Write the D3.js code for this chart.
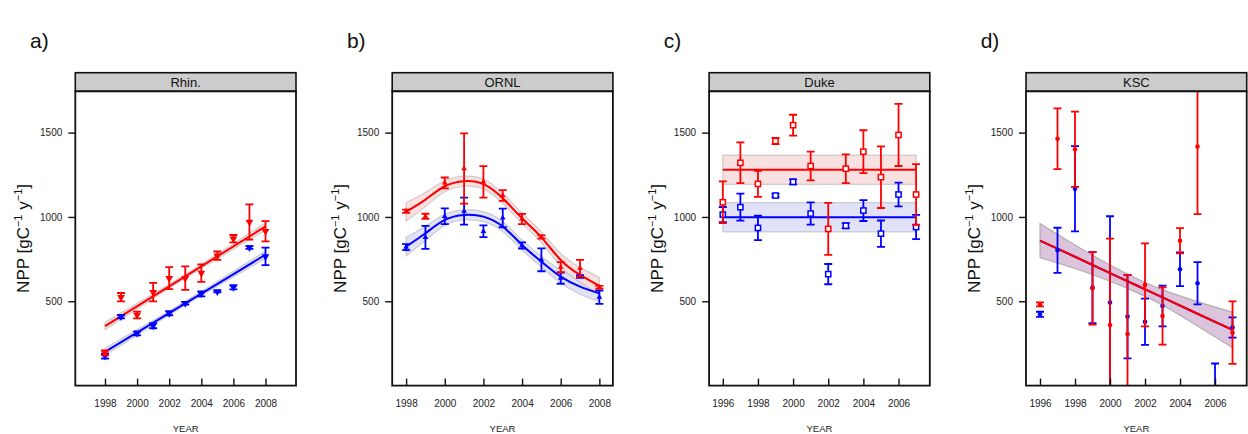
<!DOCTYPE html>
<html><head><meta charset="utf-8">
<script src="https://cdn.jsdelivr.net/npm/d3@7"></script>
<style>body{margin:0;background:#fff}svg{display:block}</style>
</head><body><svg id="c" width="1248" height="434"></svg>
<script>
// ---------- DATA ----------
const panelNames = ["Rhin.", "ORNL", "Duke", "KSC"];
const panelLetters = ["a)", "b)", "c)", "d)"];
const yTicks = [500, 1000, 1500];
const xTicksAB = [1998, 2000, 2002, 2004, 2006, 2008];
const xTicksCD = [1996, 1998, 2000, 2002, 2004, 2006];

// Rhin.
const rhinYears = [1998,1999,2000,2001,2002,2003,2004,2005,2006,2007,2008];
const rhinRed = [194,524,419,554,637,637,667,770,871,970,915];
const rhinRedErr = [15,25,20,55,65,70,52,25,22,104,60];
const rhinBlue = [175,409,310,355,429,488,544,558,583,819,766];
const rhinBlueErr = [15,10,12,15,12,8,15,5,12,8,52];
const rhinFitYears = [1998,2003,2008];
const rhinRedFit = [353,648,944];
const rhinBlueFit = [200,488,776];
const rhinBandHalf = [22,12,22];

// ORNL
const ornlYears = [1998,1999,2000,2001,2002,2003,2004,2005,2006,2007,2008];
const ornlRed = [1034,1004,1202,1287,1208,1127,988,881,702,696,583];
const ornlRedErr = [10,15,32,208,93,32,30,10,30,50,8];
const ornlBlue = [821,879,1004,1034,915,994,831,746,637,647,524];
const ornlBlueErr = [18,68,47,80,35,55,18,68,33,8,40];
const ornlFitYears = [1998,1999,2000,2001,2002,2003,2004,2005,2006,2007,2008];
const ornlRedFit = [1031,1103,1182,1212,1195,1111,992,879,745,656,591];
const ornlBlueFit = [824,903,982,1012,1002,943,834,735,646,587,547];
const ornlBandHalf = [55,42,33,30,30,30,30,32,38,45,50];

// Duke
const dukeYears = [1996,1997,1998,1999,2000,2001,2002,2003,2004,2005,2006,2007];
const dukeRed = [1087,1321,1196,1450,1544,1302,929,1286,1387,1236,1486,1133];
const dukeRedErr = [124,121,77,18,62,85,154,85,127,183,184,180];
const dukeBlue = [1014,1058,935,1127,1208,1020,661,948,1038,901,1133,940];
const dukeBlueErr = [45,80,72,10,15,66,60,15,62,78,70,72];
const dukeFitYears = [1996,2007];
const dukeRedFit = [1280,1280];
const dukeBlueFit = [998,998];
const dukeBandHalf = [87,87];

// KSC
const kscYears = [1996,1997,1998,1999,2000,2001,2002,2003,2004,2005,2006,2007];
const kscRed = [482,1464,1401,577,359,306,597,413,859,1417,null,314];
const kscRedErr = [12,180,223,215,512,350,246,170,75,400,null,185];
const kscBlue = [423,802,1167,581,492,409,379,472,690,607,-50,345];
const kscBlueErr = [15,134,253,210,512,248,137,121,100,125,181,60];
const kscFitYears = [1996,1998,2000,2001.5,2003,2005,2007];
const kscRedFit = [860,764,667,595,523,426,330];
const kscBlueFit = [860,764,667,595,523,426,330];
const kscBandHalf = [101,70,48,42,46,72,105];

// ---------- LAYOUT ----------
const panels = [
  {name: panelNames[0], letter: panelLetters[0], xDom: [1996.15, 2009.9], xTicks: xTicksAB, marker: "tdown",
   years: rhinYears, red: rhinRed, redErr: rhinRedErr, blue: rhinBlue, blueErr: rhinBlueErr,
   fitYears: rhinFitYears, redFit: rhinRedFit, blueFit: rhinBlueFit, band: rhinBandHalf},
  {name: panelNames[1], letter: panelLetters[1], xDom: [1997.28, 2008.7], xTicks: xTicksAB, marker: "tup",
   years: ornlYears, red: ornlRed, redErr: ornlRedErr, blue: ornlBlue, blueErr: ornlBlueErr,
   fitYears: ornlFitYears, redFit: ornlRedFit, blueFit: ornlBlueFit, band: ornlBandHalf},
  {name: panelNames[2], letter: panelLetters[2], xDom: [1995.22, 2007.78], xTicks: xTicksCD, marker: "square",
   years: dukeYears, red: dukeRed, redErr: dukeRedErr, blue: dukeBlue, blueErr: dukeBlueErr,
   fitYears: dukeFitYears, redFit: dukeRedFit, blueFit: dukeBlueFit, band: dukeBandHalf},
  {name: panelNames[3], letter: panelLetters[3], xDom: [1995.2, 2007.81], xTicks: xTicksCD, marker: "circle",
   years: kscYears, red: kscRed, redErr: kscRedErr, blue: kscBlue, blueErr: kscBlueErr,
   fitYears: kscFitYears, redFit: kscRedFit, blueFit: kscBlueFit, band: kscBandHalf, purple: true}
];

const FONT = "'Liberation Sans', Arial, Helvetica, sans-serif";
const svg = d3.select("#c");
const plotTop = 91.3, plotBottom = 385.6, stripTop = 72.7;
const pw = 220.7, step = 316.9, left0 = 75.3;
const RED = "#ff0000", BLUE = "#0000ff";

const y = d3.scaleLinear().domain([0, 1745]).range([plotBottom, plotTop]);

panels.forEach((p, i) => {
  const L = left0 + i * step, R = L + pw;
  const x = d3.scaleLinear().domain(p.xDom).range([L, R]);
  const g = svg.append("g");

  // panel letter
  g.append("text").attr("x", 30 + i * step).attr("y", 48)
    .attr("font-family", FONT).attr("font-size", 21).attr("fill", "#111").text(p.letter);

  // strip
  g.append("rect").attr("x", L).attr("y", stripTop).attr("width", pw).attr("height", plotTop - stripTop)
    .attr("fill", "#cccccc").attr("stroke", "#111").attr("stroke-width", 1.6);
  g.append("text").attr("x", (L + R) / 2).attr("y", stripTop + 14)
    .attr("text-anchor", "middle").attr("font-family", FONT).attr("font-size", 13).attr("fill", "#111")
    .text(p.name);

  // clip
  const cid = "clip" + i;
  svg.append("clipPath").attr("id", cid).append("rect")
    .attr("x", L).attr("y", plotTop).attr("width", pw).attr("height", plotBottom - plotTop);
  const pg = g.append("g").attr("clip-path", `url(#${cid})`);

  // bands
  const fitData = s => p.fitYears.map((yr, k) => ({yr, v: s[k], h: p.band[k]}));
  const curve = p.fitYears.length > 2 ? d3.curveNatural : d3.curveLinear;
  const area = d3.area().x(d => x(d.yr)).y0(d => y(d.v - d.h)).y1(d => y(d.v + d.h)).curve(curve);
  const line = d3.line().x(d => x(d.yr)).y(d => y(d.v)).curve(curve);

  if (p.purple) {
    pg.append("path").datum(fitData(p.redFit)).attr("d", area)
      .attr("fill", "#dcc5dc").attr("stroke", "#9a9a9a").attr("stroke-opacity", 0.7).attr("stroke-width", 1.2);
  } else {
    [[p.blueFit, "#dcdcf6", BLUE], [p.redFit, "#f8dcdc", RED]].forEach(([s, fc]) => {
      pg.append("path").datum(fitData(s)).attr("d", area)
        .attr("fill", fc).attr("fill-opacity", 0.85)
        .attr("stroke", "#aaaaaa").attr("stroke-opacity", 0.5).attr("stroke-width", 1.2);
    });
  }
  // fit lines
  pg.append("path").datum(fitData(p.blueFit)).attr("d", line)
    .attr("fill", "none").attr("stroke", BLUE).attr("stroke-width", 2);
  pg.append("path").datum(fitData(p.redFit)).attr("d", line)
    .attr("fill", "none").attr("stroke", RED).attr("stroke-width", 2);

  // points + error bars
  const drawSeries = (vals, errs, col) => {
    const pts = p.years.map((yr, k) => ({yr, v: vals[k], e: errs[k]})).filter(d => d.v !== null);
    const eg = pg.append("g").attr("stroke", col).attr("stroke-width", 1.8);
    pts.forEach(d => {
      const cx = x(d.yr), y1 = y(d.v - d.e), y2 = y(d.v + d.e);
      eg.append("line").attr("x1", cx).attr("x2", cx).attr("y1", y1).attr("y2", y2);
      eg.append("line").attr("x1", cx - 4).attr("x2", cx + 4).attr("y1", y1).attr("y2", y1);
      eg.append("line").attr("x1", cx - 4).attr("x2", cx + 4).attr("y1", y2).attr("y2", y2);
    });
    const mg = pg.append("g");
    pts.forEach(d => {
      const cx = x(d.yr), cy = y(d.v);
      if (p.marker === "tdown") {
        mg.append("path").attr("d", d3.symbol(d3.symbolTriangle, 26)())
          .attr("transform", `translate(${cx},${cy}) rotate(180)`).attr("fill", col);
      } else if (p.marker === "tup") {
        mg.append("path").attr("d", d3.symbol(d3.symbolTriangle, 14)())
          .attr("transform", `translate(${cx},${cy})`).attr("fill", col);
      } else if (p.marker === "square") {
        mg.append("rect").attr("x", cx - 2.6).attr("y", cy - 2.6).attr("width", 5.2).attr("height", 5.2)
          .attr("fill", "#fff").attr("stroke", col).attr("stroke-width", 1.5);
      } else {
        mg.append("circle").attr("cx", cx).attr("cy", cy).attr("r", 2.3).attr("fill", col);
      }
    });
  };
  drawSeries(p.blue, p.blueErr, BLUE);
  drawSeries(p.red, p.redErr, RED);

  // frame
  g.append("rect").attr("x", L).attr("y", plotTop).attr("width", pw).attr("height", plotBottom - plotTop)
    .attr("fill", "none").attr("stroke", "#111").attr("stroke-width", 1.8);

  // y axis (ticks outside)
  const ya = g.append("g").attr("transform", `translate(${L},0)`)
    .call(d3.axisLeft(y).tickValues(yTicks).tickSize(7).tickPadding(6).tickFormat(d3.format("d")));
  ya.select(".domain").remove();
  ya.selectAll("line").attr("stroke", "#111").attr("stroke-width", 1.4);
  ya.selectAll("text").attr("font-family", FONT).attr("font-size", 10).attr("fill", "#222");

  // x axis (ticks inside)
  const xa = g.append("g").attr("transform", `translate(0,${plotBottom})`)
    .call(d3.axisBottom(x).tickValues(p.xTicks).tickSizeInner(-7).tickSizeOuter(0).tickPadding(14).tickFormat(d3.format("d")));
  xa.select(".domain").remove();
  xa.selectAll("line").attr("stroke", "#111").attr("stroke-width", 1.4);
  xa.selectAll("text").attr("font-family", FONT).attr("font-size", 10).attr("fill", "#222");

  // x label
  g.append("text").attr("x", (L + R) / 2).attr("y", 432).attr("text-anchor", "middle")
    .attr("font-family", FONT).attr("font-size", 9.5).attr("fill", "#222").text("YEAR");

  // y label
  const yl = g.append("text").attr("transform", `translate(${L - 46},${(plotTop + plotBottom) / 2}) rotate(-90)`)
    .attr("text-anchor", "middle").attr("font-family", FONT).attr("font-size", 17).attr("fill", "#111");
  yl.append("tspan").text("NPP [gC");
  yl.append("tspan").attr("font-size", 11).attr("dy", -7).text("\u22121");
  yl.append("tspan").attr("dy", 7).text(" y");
  yl.append("tspan").attr("font-size", 11).attr("dy", -7).text("\u22121");
  yl.append("tspan").attr("dy", 7).text("]");
});
</script></body></html>
